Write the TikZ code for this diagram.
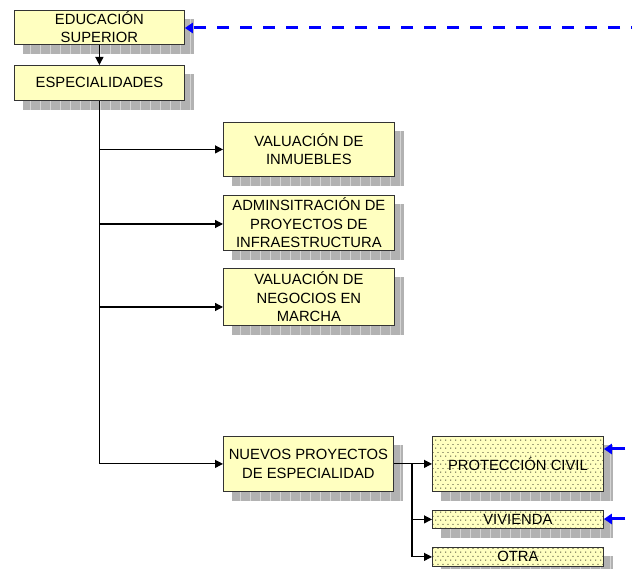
\documentclass[tikz,border=0pt]{standalone}
\usepackage{fontspec}
\setmainfont{Liberation Sans}
\usetikzlibrary{arrows.meta,patterns.meta,backgrounds}

\definecolor{boxfill}{RGB}{255,255,192}
\definecolor{shadowfill}{RGB}{178,178,178}
\definecolor{shadowgrid}{RGB}{212,212,212}
\definecolor{linkblue}{RGB}{0,0,255}

% sparse staggered dots for the lower boxes
\tikzdeclarepattern{
  name=sparsedots,
  type=uncolored,
  bounding box={(0pt,0pt) and (5pt,8pt)},
  tile size={(5pt,8pt)},
  code={
    \pgfpathrectangle{\pgfqpoint{0.5pt}{0.5pt}}{\pgfqpoint{0.9pt}{0.9pt}}
    \pgfpathrectangle{\pgfqpoint{3pt}{4.5pt}}{\pgfqpoint{0.9pt}{0.9pt}}
    \pgfusepath{fill}}
}

\begin{document}
\begin{tikzpicture}[x=1pt,y=-1pt,
  card/.style={draw=black!80, line width=0.8pt, fill=boxfill, align=center,
    inner sep=0pt, anchor=north west,
    font=\fontsize{14.8}{18.5}\selectfont},
  dotcard/.style={card, preaction={fill=boxfill}, pattern=sparsedots,
    pattern color=black},
  link/.style={line width=1.2pt, -{Triangle[length=8pt,width=8pt]}},
  bluedash/.style={linkblue, line width=3pt, dash pattern=on 12pt off 11pt,
    dash phase=11pt, -{Triangle[length=8pt,width=10pt]}},
  bluepin/.style={linkblue, line width=3pt, -{Triangle[length=8pt,width=10pt]}},
]
\useasboundingbox (0,0) rectangle (633,569);

% boxes
\node[card, minimum width=170pt, minimum height=34pt] (edu) at (14,10)
  {EDUCACIÓN\\SUPERIOR};
\node[card, minimum width=170pt, minimum height=35pt] (esp) at (14,65)
  {ESPECIALIDADES};
\node[card, minimum width=171pt, minimum height=54pt] (val) at (223,122)
  {VALUACIÓN DE\\INMUEBLES};
\node[card, minimum width=171pt, minimum height=55pt] (adm) at (223,195)
  {ADMINSITRACIÓN DE\\PROYECTOS DE\\INFRAESTRUCTURA};
\node[card, minimum width=171pt, minimum height=57pt] (neg) at (223,268)
  {VALUACIÓN DE\\NEGOCIOS EN\\MARCHA};
\node[card, minimum width=170pt, minimum height=55pt] (nue) at (223,436)
  {NUEVOS PROYECTOS\\DE ESPECIALIDAD};
\node[dotcard, minimum width=171pt, minimum height=55pt] (pro) at (432,436)
  {PROTECCIÓN CIVIL};
\node[dotcard, minimum width=171pt, minimum height=18pt] (viv) at (432,510)
  {VIVIENDA};
\node[dotcard, minimum width=171pt, minimum height=19pt] (otr) at (432,547)
  {OTRA};

% gridded drop shadows behind every box
\begin{scope}[on background layer]
  \foreach \n in {edu,esp,val,adm,neg,nue,pro,viv,otr}{
    \begin{scope}
      \clip ([shift={(9,9)}]\n.south west) rectangle ([shift={(9,9)}]\n.north east);
      \fill[shadowfill] ([shift={(9,9)}]\n.south west) rectangle ([shift={(9,9)}]\n.north east);
      \draw[shadowgrid, line width=0.7pt, step=10]
        ([shift={(9,9)}]\n.south west) grid ([shift={(9,9)}]\n.north east);
    \end{scope}
  }
\end{scope}

% main tree
\draw[link] (edu) -- (esp);
\draw[link] (esp.south) |- (nue.west);
\draw[link] (esp.south |- val.west) -- (val.west);
\coordinate (b2) at (99,224);
\draw[link] (b2) -- (b2 -| adm.west);
\coordinate (b3) at (99,307);
\draw[link] (b3) -- (b3 -| neg.west);

% branches of the new projects
\draw[link] (nue.east) -- (pro.west);
\coordinate (fork) at (412,463.5);
\draw[link] (fork) |- (viv.west);
\draw[link] (fork) |- (otr.west);

% incoming blue references
\coordinate (feed) at (632,28);
\draw[bluedash] (feed) -- (feed -| edu.east);
\coordinate (pin1) at (625,449);
\draw[bluepin] (pin1) -- (pin1 -| pro.east);
\coordinate (pin2) at (625,519);
\draw[bluepin] (pin2) -- (pin2 -| viv.east);
\end{tikzpicture}
\end{document}
